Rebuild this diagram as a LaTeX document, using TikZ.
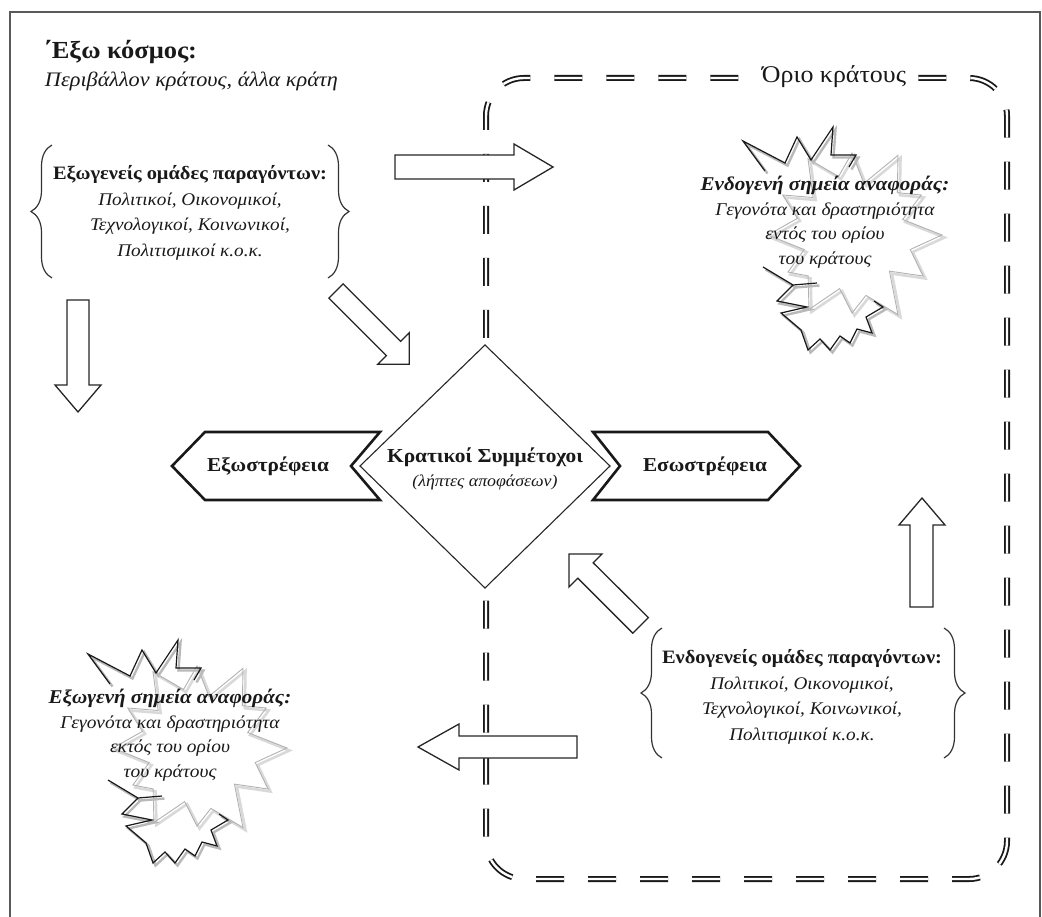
\documentclass[tikz,border=0pt]{standalone}
\usepackage{fontspec}
\setmainfont[FakeStretch=1.08]{Liberation Serif}
\usetikzlibrary{decorations.pathreplacing}

\newcommand\burstshape[2]{%
  \begin{scope}[shift={(#1,#2)}]
    % grey star behind
    \begin{scope}[shift={(27,50)}]
      \draw[gray!30, line width=2.6pt, line join=miter, shift={(2.5,2.5)}]
        (0:90) \foreach \a/\r in {14/60,30/82,44/52,60/92,77/62,90/78,103/55,120/86,137/60,150/74,163/50,180/84,197/57,210/80,224/54,240/88,257/60,270/82,283/53,300/92,317/62,330/80,343/53} { -- (\a:\r) } -- cycle;
      \draw[gray!60, line width=0.9pt, line join=miter]
        (0:90) \foreach \a/\r in {14/60,30/82,44/52,60/92,77/62,90/78,103/55,120/86,137/60,150/74,163/50,180/84,197/57,210/80,224/54,240/88,257/60,270/82,283/53,300/92,317/62,330/80,343/53} { -- (\a:\r) } -- cycle;
    \end{scope}
    % black outline with shadow
    \begin{scope}[shift={(2.5,2.5)}]
      \draw[burstshadow] (-60,-14) -- (-82,-44) -- (-40,-22) -- (-28,-48) -- (-14,-25) -- (8,-58) -- (6,-30) -- (31,-30) -- (24,-18);
      \draw[burstshadow] (-62,82) -- (-32,100) -- (-8,98);
      \draw[burstshadow] (-32,100) -- (-48,116) -- (-18,122) -- (-44,128) -- (-24,145) -- (-17,165) -- (-5,154) -- (5,165) -- (15,151) -- (25,158) -- (32,144) -- (47,148) -- (41,132) -- (58,122) -- (49,116);
    \end{scope}
    \draw[burstline] (-60,-14) -- (-82,-44) -- (-40,-22) -- (-28,-48) -- (-14,-25) -- (8,-58) -- (6,-30) -- (31,-30) -- (24,-18);
    \draw[burstline] (-62,82) -- (-32,100) -- (-8,98);
    \draw[burstline] (-32,100) -- (-48,116) -- (-18,122) -- (-44,128) -- (-24,145) -- (-17,165) -- (-5,154) -- (5,165) -- (15,151) -- (25,158) -- (32,144) -- (47,148) -- (41,132) -- (58,122) -- (49,116);
  \end{scope}}

\begin{document}
\begin{tikzpicture}[x=1pt,y=-1pt,
  every node/.style={inner sep=0pt, outer sep=0pt, text=black!90},
  frame/.style={draw=black!65, line width=1.4pt},
  bound/.style={draw=black!90, line width=1.8pt, double=white, double distance=2.4pt,
     dash pattern=on 28pt off 24pt, rounded corners=38pt},
  blockarrow/.style={draw=black!85, fill=white, line width=1.3pt, line join=miter},
  chev/.style={draw=black!90, fill=white, line width=2.6pt, line join=miter},
  dia/.style={draw=black!85, fill=white, line width=1.1pt, line join=miter},
  bracestyle/.style={draw=black!80, line width=1.2pt, decorate, decoration={brace, amplitude=21pt}},
  burstline/.style={draw=black!90, line width=1.2pt, line join=miter},
  burstshadow/.style={draw=gray!55, line width=2.4pt, line join=miter},
  blocktext/.style={align=center, font=\fontsize{17.8}{25.5}\selectfont},
  bursttext/.style={align=center, font=\fontsize{18}{24.5}\selectfont\itshape},
]
\useasboundingbox (0,0) rectangle (1042,917);

% outer frame
\draw[frame] (10,917) -- (10,12) -- (1040,12) -- (1040,917);

% titles
\node[anchor=west, font=\fontsize{24.5}{26}\selectfont\bfseries] (title) at (43,52) {΄Εξω κόσμος:};
\node[anchor=west, font=\fontsize{20.6}{24}\selectfont\itshape] (subtitle) at (45,81) {Περιβάλλον κράτους, άλλα κράτη};

% state boundary
\draw[bound] (486,480) -- (486,78) -- (1007,78) -- (1007,879) -- (486,879) -- cycle;
\node[fill=white, inner xsep=5pt, inner ysep=3pt, font=\fontsize{24}{26}\selectfont] (orio) at (834,77) {Όριο κράτους};

% exogenous factors block
\node[blocktext] (exo) at (190,213) {\textbf{\fontsize{18.9}{25.5}\selectfont Εξωγενείς ομάδες παραγόντων:}\\ \textit{Πολιτικοί, Οικονομικοί,}\\ \textit{Τεχνολογικοί, Κοινωνικοί,}\\ \textit{Πολιτισμικοί κ.ο.κ.}};
\coordinate (exoL1) at (52,278); \coordinate (exoL2) at (52,145);
\coordinate (exoR1) at (328,145); \coordinate (exoR2) at (328,278);
\draw[bracestyle] (exoL1) -- (exoL2);
\draw[bracestyle] (exoR1) -- (exoR2);

% endogenous factors block
\node[blocktext] (endo) at (802,697) {\textbf{\fontsize{18.9}{25.5}\selectfont Ενδογενείς ομάδες παραγόντων:}\\ \textit{Πολιτικοί, Οικονομικοί,}\\ \textit{Τεχνολογικοί, Κοινωνικοί,}\\ \textit{Πολιτισμικοί κ.ο.κ.}};
\coordinate (endoL1) at (662,758); \coordinate (endoL2) at (662,628);
\coordinate (endoR1) at (944,628); \coordinate (endoR2) at (944,758);
\draw[bracestyle] (endoL1) -- (endoL2);
\draw[bracestyle] (endoR1) -- (endoR2);

% block arrows
\draw[blockarrow] (395,155) -- (514,155) -- (514,144) -- (553,167) -- (514,190) -- (514,179) -- (395,179) -- cycle;
\draw[blockarrow] (67,300) -- (89,300) -- (89,385) -- (101,385) -- (78,412) -- (55,385) -- (67,385) -- cycle;
\draw[blockarrow] (328.9,298.1) -- (343.1,283.9) -- (400.6,341.4) -- (409.3,332.7) -- (409.3,364.3) -- (377.7,364.3) -- (386.4,355.6) -- cycle;
\draw[blockarrow] (648.4,617.6) -- (632.8,633.2) -- (577.8,578.2) -- (569,587) -- (569,554) -- (602,554) -- (593.2,562.8) -- cycle;
\draw[blockarrow] (910,607) -- (933,607) -- (933,525) -- (945,525) -- (922,498) -- (899,525) -- (910,525) -- cycle;
\draw[blockarrow] (577,736) -- (577,758) -- (459,758) -- (459,770) -- (418,747) -- (459,724) -- (459,736) -- cycle;

% central diamond and chevrons
\draw[chev] (172,466) -- (205,432) -- (380,432) -- (351,466) -- (380,500) -- (205,500) -- cycle;
\draw[chev] (593,432) -- (768,432) -- (800,466) -- (768,500) -- (593,500) -- (620,466) -- cycle;
\draw[dia] (485,345) -- (610,466) -- (485,588) -- (360,466) -- cycle;
\node[align=center, font=\fontsize{19.8}{24}\selectfont] (dm) at (485,469) {\textbf{Κρατικοί Συμμέτοχοι}\\ \textit{\fontsize{16.5}{24}\selectfont (λήπτες αποφάσεων)}};
\node[font=\fontsize{19.7}{22}\selectfont\bfseries] (extro) at (268,466) {Εξωστρέφεια};
\node[font=\fontsize{19.7}{22}\selectfont\bfseries] (intro) at (705,466) {Εσωστρέφεια};

% explosions
\burstshape{825}{185}
\node[bursttext] (endoev) at (825,222) {\textbf{\fontsize{19.5}{24.5}\selectfont Ενδογενή σημεία αναφοράς:}\\ Γεγονότα και δραστηριότητα\\ εντός του ορίου\\ του κράτους};
\burstshape{170}{698}
\node[bursttext] (exoev) at (170,735) {\textbf{\fontsize{19.5}{24.5}\selectfont Εξωγενή σημεία αναφοράς:}\\ Γεγονότα και δραστηριότητα\\ εκτός του ορίου\\ του κράτους};
\end{tikzpicture}
\end{document}
